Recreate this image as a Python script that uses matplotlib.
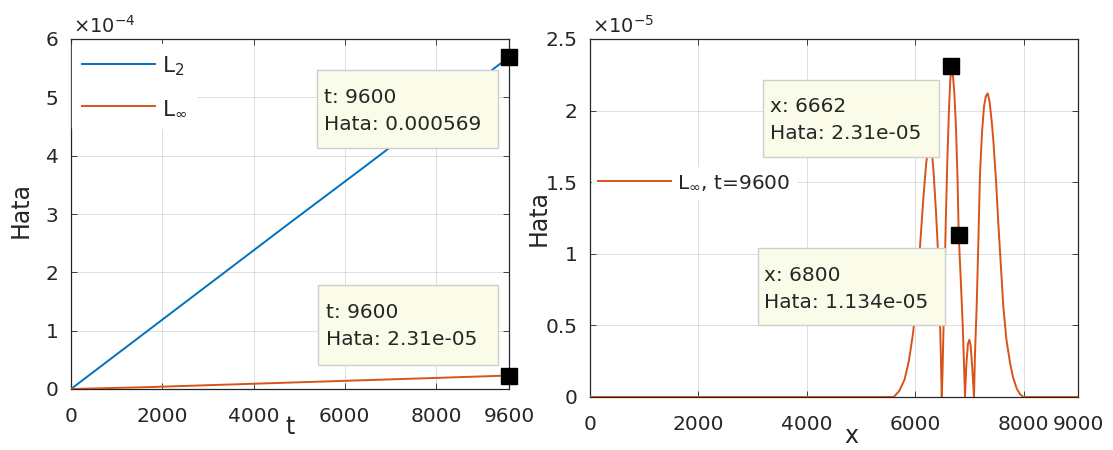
import matplotlib
matplotlib.use("Agg")
import matplotlib.pyplot as plt
from matplotlib.ticker import FuncFormatter
from matplotlib.patches import Rectangle

# ---------------- data ----------------
# left panel: error vs time
t_vals = [0, 1600, 3200, 4800, 6400, 8000, 9600]
l2_vals = [0.0, 0.95e-4, 1.90e-4, 2.85e-4, 3.79e-4, 4.74e-4, 5.69e-4]
linf_vals = [0.0, 0.30e-5, 0.70e-5, 1.10e-5, 1.50e-5, 1.90e-5, 2.31e-5]
left_xticks = [0, 2000, 4000, 6000, 8000, 9600]
left_yticks = [0, 1e-4, 2e-4, 3e-4, 4e-4, 5e-4, 6e-4]
left_tip_t = [9600, 9600]
left_tip_val = [0.000569, 2.31e-05]
left_tip_text = ["t: 9600\nHata: 0.000569", "t: 9600\nHata: 2.31e-05"]

# right panel: L_inf error profile at t=9600 (values in units of 1e-5)
x_vals = [0, 5400, 5600, 5700, 5800, 5880, 5960, 6030, 6090, 6150, 6200,
          6240, 6270, 6300, 6340, 6380, 6420, 6450, 6470, 6487,
          6500, 6530, 6560, 6590, 6620, 6640, 6662, 6690, 6720, 6750,
          6780, 6800, 6840, 6873, 6900, 6916,
          6940, 6970, 6996, 7020, 7050, 7082,
          7100, 7131, 7160, 7193, 7230, 7267, 7300, 7335, 7370, 7410,
          7439, 7490, 7531, 7580, 7623, 7680, 7746, 7800, 7869, 7930,
          7990, 8200, 9000]
err_vals_e5 = [0, 0, 0.0, 0.04, 0.12, 0.25, 0.45, 0.75, 1.07, 1.40, 1.63,
               1.75, 1.78, 1.74, 1.55, 1.30, 1.00, 0.60, 0.30, 0.0,
               0.15, 0.65, 1.20, 1.65, 2.00, 2.18, 2.31, 2.26, 2.12, 1.88,
               1.50, 1.134, 0.80, 0.51, 0.20, 0.0,
               0.22, 0.37, 0.40, 0.36, 0.20, 0.0,
               0.30, 0.63, 1.05, 1.56, 1.85, 2.03, 2.10, 2.12, 2.06, 1.92,
               1.79, 1.50, 1.21, 0.90, 0.63, 0.40, 0.24, 0.14, 0.06, 0.02,
               0.0, 0.0, 0.0]
err_vals = [v * 1e-5 for v in err_vals_e5]
right_xticks = [0, 2000, 4000, 6000, 8000, 9000]
right_yticks = [0, 0.5e-5, 1e-5, 1.5e-5, 2e-5, 2.5e-5]
right_tip_x = [6662, 6800]
right_tip_val = [2.31e-05, 1.134e-05]
right_tip_text = ["x: 6662\nHata: 2.31e-05", "x: 6800\nHata: 1.134e-05"]

BLUE = "#0072BD"
ORANGE = "#D95319"
AXC = "#262626"
TIPFACE = "#FBFBEA"
TIPEDGE = "#CFCFCF"

plt.rcParams['font.family'] = ['DejaVu Sans']
plt.rcParams['mathtext.fontset'] = 'dejavusans'
FS = 14.5

W, H = 1113, 450
fig = plt.figure(figsize=(W / 100, H / 100), dpi=100)


def px_axes(l, r, t, b):
    return fig.add_axes([l / W, (H - b) / H, (r - l) / W, (b - t) / H])


def style(ax, xlim, ylim, xticks, yticks, yscale, exp_txt):
    ax.set_xlim(*xlim)
    ax.set_ylim(*ylim)
    ax.set_xticks(xticks)
    ax.set_yticks(yticks)
    ax.xaxis.set_major_formatter(FuncFormatter(lambda v, p: "%g" % v))
    ax.yaxis.set_major_formatter(FuncFormatter(lambda v, p: "%g" % round(v / yscale, 6)))
    ax.tick_params(direction='in', length=4, width=0.6, colors=AXC,
                   labelsize=FS, top=True, right=True)
    ax.tick_params(axis='x', pad=13)
    ax.tick_params(axis='y', pad=9)
    for s in ax.spines.values():
        s.set_color(AXC)
        s.set_linewidth(0.9)
    ax.grid(True, color=AXC, alpha=0.15, linewidth=0.7)
    ax.set_axisbelow(True)
    ax.text(0.005, 1.005, exp_txt, transform=ax.transAxes, ha='left', va='bottom',
            fontsize=14, color=AXC)


def tip_box(ax, x0, x1, y0, y1, tx, ty, text):
    ax.add_patch(Rectangle((x0, y0), x1 - x0, y1 - y0, transform=ax.transAxes,
                           facecolor=TIPFACE, edgecolor=TIPEDGE, linewidth=1.0,
                           zorder=6, clip_on=False))
    ax.text(tx, ty, text, transform=ax.transAxes, ha='left', va='center',
            fontsize=FS, color=AXC, linespacing=1.5, zorder=7)


# ---------------- left panel ----------------
axL = px_axes(71, 509, 39, 389)
style(axL, (0, 9600), (0, 6e-4), left_xticks, left_yticks, 1e-4, r'$\times10^{-4}$')
axL.plot(t_vals, l2_vals, color=BLUE, lw=1.4, label=r'$\mathregular{L_2}$', zorder=3)
axL.plot(t_vals, linf_vals, color=ORANGE, lw=1.4, label=r'$\mathregular{L_\infty}$', zorder=3)
axL.plot(left_tip_t, left_tip_val, 's', color='k', ms=11.5, clip_on=False, zorder=10)
legL = axL.legend(loc='upper left', bbox_to_anchor=(0.003, 0.985), fontsize=FS + 1,
                  handlelength=3.4, handletextpad=0.3, labelspacing=0.95,
                  borderpad=0.45, borderaxespad=0.0, frameon=True, fancybox=False)
legL.get_frame().set_edgecolor('white')
legL.get_frame().set_facecolor('white')
legL.get_frame().set_alpha(1.0)
for tx in legL.get_texts():
    tx.set_color(AXC)

tip_box(axL, 0.562, 0.975, 0.689, 0.911, 0.578, 0.795, left_tip_text[0])
tip_box(axL, 0.564, 0.975, 0.069, 0.297, 0.582, 0.180, left_tip_text[1])

axL.set_xlabel('t', fontsize=17, color=AXC, va='center')
axL.xaxis.set_label_coords(0.5, -0.11)
axL.set_ylabel('Hata', fontsize=17, color=AXC, va='center')
axL.yaxis.set_label_coords(-0.114, 0.51)

# ---------------- right panel ----------------
axR = px_axes(590, 1078, 39, 397)
style(axR, (0, 9000), (0, 2.5e-5), right_xticks, right_yticks, 1e-5, r'$\times10^{-5}$')
axR.plot(x_vals, err_vals, color=ORANGE, lw=1.4, label=r'$\mathregular{L_\infty}$, t=9600',
         zorder=3)
axR.plot(right_tip_x, right_tip_val, 's', color='k', ms=11.5, clip_on=False, zorder=10)
legR = axR.legend(loc='center left', bbox_to_anchor=(0.005, 0.598), fontsize=FS,
                  handlelength=3.6, handletextpad=0.3, borderpad=0.3,
                  borderaxespad=0.0, frameon=True, fancybox=False)
legR.get_frame().set_edgecolor('white')
legR.get_frame().set_facecolor('white')
legR.get_frame().set_alpha(1.0)
for tx in legR.get_texts():
    tx.set_color(AXC)

tip_box(axR, 0.354, 0.716, 0.670, 0.885, 0.369, 0.774, right_tip_text[0])
tip_box(axR, 0.344, 0.727, 0.201, 0.416, 0.357, 0.302, right_tip_text[1])

axR.set_xlabel('x', fontsize=17, color=AXC, va='center')
axR.xaxis.set_label_coords(0.535, -0.109)
axR.set_ylabel('Hata', fontsize=17, color=AXC, va='center')
axR.yaxis.set_label_coords(-0.105, 0.5)

fig.savefig('out.png', dpi=100)
